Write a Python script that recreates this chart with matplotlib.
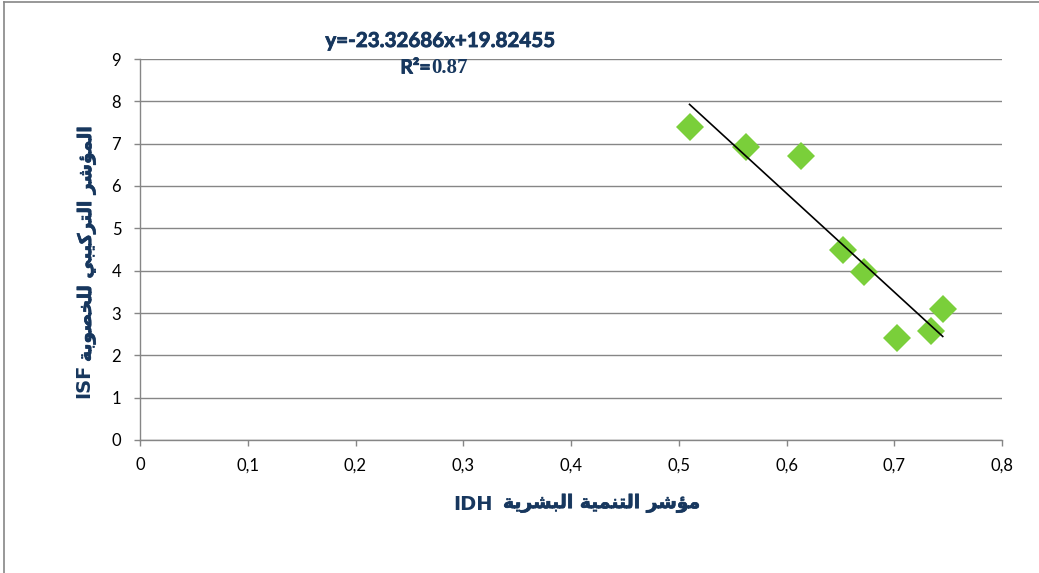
import numpy as np
import matplotlib
matplotlib.use('Agg')
import matplotlib.pyplot as plt
import matplotlib.patheffects as pe
from matplotlib.lines import Line2D

# ============================================================================
# DATA
# ============================================================================
IDH = [0.510, 0.562, 0.613, 0.652, 0.672, 0.703, 0.734, 0.745]
ISF = [7.40, 6.91, 6.70, 4.50, 3.97, 2.42, 2.57, 3.10]

SLOPE = -23.32686
INTERCEPT = 19.82455
R2_TEXT = '0.87'

X_TICKS = [0, 0.1, 0.2, 0.3, 0.4, 0.5, 0.6, 0.7, 0.8]
Y_TICKS = list(range(0, 10))

X_LABEL_AR = 'مؤشر التنمية البشرية'
Y_LABEL_AR = 'المؤشر التركيبي للخصوبة'

NAVY = '#17375E'
GREEN = '#7ACF3A'
GRID = '#868686'

# ============================================================================
# Minimal Arabic shaping (presentation forms, visual order) since
# matplotlib has no text shaping of its own
# ============================================================================
# letter: (isolated, final, initial, medial) ; None -> does not join forward
FORMS = {
    'ا': (0xFE8D, 0xFE8E, None, None),
    'ب': (0xFE8F, 0xFE90, 0xFE91, 0xFE92),
    'ة': (0xFE93, 0xFE94, None, None),
    'ت': (0xFE95, 0xFE96, 0xFE97, 0xFE98),
    'خ': (0xFEA5, 0xFEA6, 0xFEA7, 0xFEA8),
    'ر': (0xFEAD, 0xFEAE, None, None),
    'ش': (0xFEB5, 0xFEB6, 0xFEB7, 0xFEB8),
    'ص': (0xFEB9, 0xFEBA, 0xFEBB, 0xFEBC),
    'ك': (0xFED9, 0xFEDA, 0xFEDB, 0xFEDC),
    'ل': (0xFEDD, 0xFEDE, 0xFEDF, 0xFEE0),
    'م': (0xFEE1, 0xFEE2, 0xFEE3, 0xFEE4),
    'ن': (0xFEE5, 0xFEE6, 0xFEE7, 0xFEE8),
    'و': (0xFEED, 0xFEEE, None, None),
    'ي': (0xFEF1, 0xFEF2, 0xFEF3, 0xFEF4),
    'ؤ': (0xFE85, 0xFE86, None, None),
}


def shape_word(word):
    out = []
    for i, ch in enumerate(word):
        if ch not in FORMS:
            out.append(ch)
            continue
        prev = word[i - 1] if i > 0 else None
        nxt = word[i + 1] if i + 1 < len(word) else None
        join_prev = prev in FORMS and FORMS[prev][2] is not None
        join_next = FORMS[ch][2] is not None and nxt in FORMS
        iso, fin, ini, med = FORMS[ch]
        if join_prev and join_next:
            cp = med
        elif join_prev:
            cp = fin
        elif join_next:
            cp = ini
        else:
            cp = iso
        out.append(chr(cp))
    return ''.join(out)


def arabic_visual(text):
    words = [shape_word(w) for w in text.split(' ')]
    return ' '.join(w[::-1] for w in reversed(words))


W, H = 1039, 573


def fx(px):
    return px / W


def fy(py):
    return 1 - py / H


BOLD_AR = [pe.withStroke(linewidth=0.5, foreground=NAVY)]
BOLD_LAT = [pe.withStroke(linewidth=0.6, foreground=NAVY)]

# ============================================================================
# PLOT
# ============================================================================
fig = plt.figure(figsize=(10.39, 5.73), dpi=100)
ax = fig.add_axes([fx(140), fy(440), 862 / W, 381 / H])

ax.set_xlim(0, 0.8)
ax.set_ylim(0, 9)

ax.set_xticks(X_TICKS)
ax.set_xticklabels([('%g' % t).replace('.', ',') for t in X_TICKS])
ax.set_yticks(Y_TICKS)
ax.set_yticklabels([str(t) for t in Y_TICKS])
ax.tick_params(axis='both', labelsize=12, colors=GRID, labelcolor='black',
               length=4.5, width=1, direction='out')
ax.tick_params(axis='x', pad=8)
ax.tick_params(axis='y', pad=9)
for lab in ax.get_xticklabels() + ax.get_yticklabels():
    lab.set_family(['Lato'])

ax.grid(axis='y', color=GRID, linewidth=1)
ax.set_axisbelow(True)
for side in ['top', 'right']:
    ax.spines[side].set_visible(False)
for side in ['left', 'bottom']:
    ax.spines[side].set_color(GRID)
    ax.spines[side].set_linewidth(1)

# scatter points
ax.plot(IDH, ISF, linestyle='none', marker='D', markersize=14,
        color=GREEN, markeredgewidth=0, zorder=3)

# linear trend line over the data range
x_fit = np.array([min(IDH), max(IDH)])
ax.plot(x_fit, SLOPE * x_fit + INTERCEPT, color='black', linewidth=1.2, zorder=4)

# equation and R^2
fig.text(fx(440), fy(41), 'y=%.5fx+%.5f' % (SLOPE, INTERCEPT),
         ha='center', va='center', fontsize=14.8, fontweight='bold',
         color=NAVY, family=['Lato'], path_effects=BOLD_LAT)
fig.text(fx(431), fy(68), 'R²=', ha='right', va='center',
         fontsize=14, fontweight='bold', color=NAVY, family=['Lato'],
         path_effects=BOLD_LAT)
fig.text(fx(431), fy(68), R2_TEXT, ha='left', va='center',
         fontsize=15, fontweight='bold', color=NAVY, family=['Liberation Serif'])

# axis titles: latin part and arabic part side by side
fig.text(fx(493), fy(505), 'IDH', ha='right', va='center', fontsize=14,
         fontweight='bold', color=NAVY, family=['DejaVu Sans'])
fig.text(fx(503), fy(503), arabic_visual(X_LABEL_AR), ha='left', va='center',
         fontsize=13.5, fontweight='bold', color=NAVY,
         family=['DejaVu Sans'], path_effects=BOLD_AR)

fig.text(fx(84), fy(398), 'ISF', ha='center', va='bottom', rotation=90,
         fontsize=14, fontweight='bold', color=NAVY, family=['DejaVu Sans'])
fig.text(fx(86), fy(362), arabic_visual(Y_LABEL_AR), ha='center', va='bottom',
         rotation=90, fontsize=13.5, fontweight='bold', color=NAVY,
         family=['DejaVu Sans'], path_effects=BOLD_AR)

# chart-area border (cropped)
fig.add_artist(Line2D([fx(4), 1], [fy(2), fy(2)],
                      transform=fig.transFigure, color=GRID, linewidth=1.2))
fig.add_artist(Line2D([fx(4), fx(4)], [0, fy(2)],
                      transform=fig.transFigure, color=GRID, linewidth=1.2))

fig.savefig('out.png', dpi=100, facecolor='white')
